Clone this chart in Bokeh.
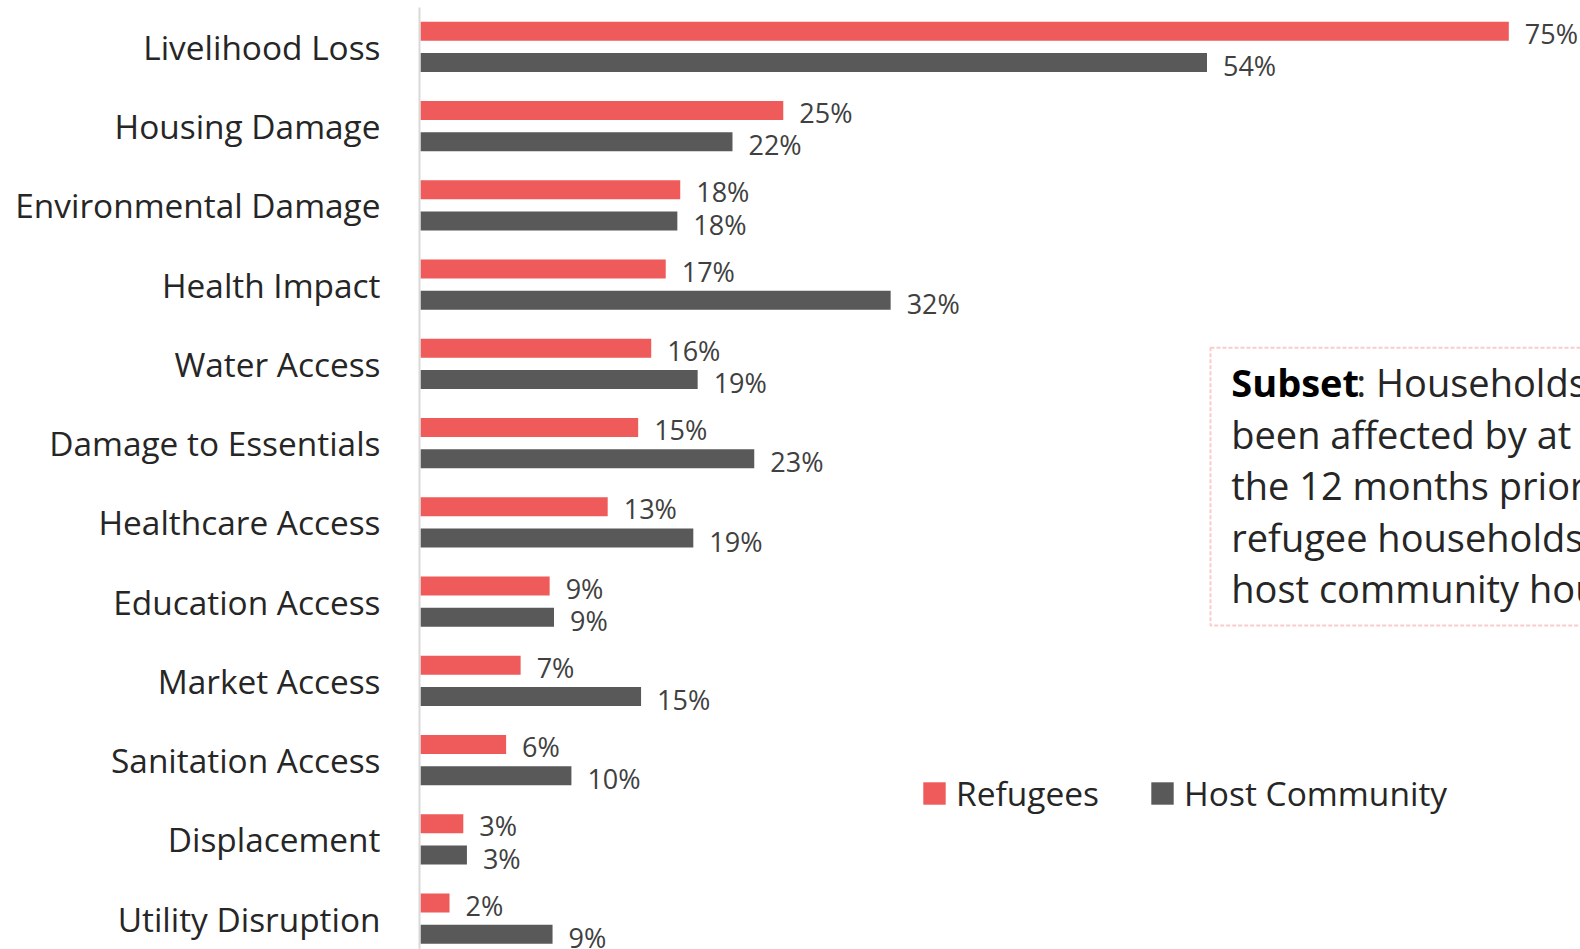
from bokeh.plotting import figure
from bokeh.models import (Range1d, FixedTicker, ColumnDataSource, Legend, LegendItem,
                          BoxAnnotation, Label)
from bokeh.embed import file_html
from bokeh.resources import INLINE
from bokeh.core.properties import value

categories = ["Livelihood Loss", "Housing Damage", "Environmental Damage", "Health Impact",
              "Water Access", "Damage to Essentials", "Healthcare Access", "Education Access",
              "Market Access", "Sanitation Access", "Displacement", "Utility Disruption"]
refugees = [75.0, 25.0, 17.9, 16.9, 15.9, 15.0, 12.9, 8.9, 6.9, 5.9, 2.95, 2.0]
host = [54.2, 21.5, 17.7, 32.4, 19.1, 23.0, 18.8, 9.2, 15.2, 10.4, 3.2, 9.1]

RED = "#EF5A5A"
DARK = "#595959"
FONT = "Open Sans"

idx = list(range(len(categories)))
off = 0.197
bar_h = 0.240

src_r = ColumnDataSource(dict(y=[i - off for i in idx], v=refugees,
                              lbl=[f"{round(v)}%" for v in refugees]))
src_h = ColumnDataSource(dict(y=[i + off for i in idx], v=host,
                              lbl=[f"{round(v)}%" for v in host]))

p = figure(width=1580, height=949, output_backend="svg", toolbar_location=None,
           x_range=Range1d(-0.069, 79.94), y_range=Range1d(11.389, -0.497),
           min_border_left=419, min_border_right=0, min_border_top=7, min_border_bottom=0)
p.outline_line_color = None
p.xgrid.visible = False
p.ygrid.visible = False
p.xaxis.visible = False

ya = p.yaxis[0]
ya.ticker = FixedTicker(ticks=idx)
ya.major_label_overrides = {i: c for i, c in zip(idx, categories)}
ya.major_tick_line_color = None
ya.minor_tick_line_color = None
ya.axis_line_color = "#D9D9D9"
ya.axis_line_width = 2
ya.major_label_text_font = FONT
ya.major_label_text_font_size = "33.4px"
ya.major_label_text_color = "#262626"
ya.major_label_standoff = 33

r_bar = p.hbar(y="y", right="v", left=0, height=bar_h, source=src_r, fill_color=RED, line_color=None)
h_bar = p.hbar(y="y", right="v", left=0, height=bar_h, source=src_h, fill_color=DARK, line_color=None)

p.text(x="v", y="y", text="lbl", source=src_r, x_offset=16, y_offset=2,
       text_font=value(FONT), text_font_size="27px", text_color="#404040",
       text_baseline="middle", text_align="left")
p.text(x="v", y="y", text="lbl", source=src_h, x_offset=16, y_offset=3,
       text_font=value(FONT), text_font_size="27px", text_color="#404040",
       text_baseline="middle", text_align="left")

# note box
box = BoxAnnotation(left=54.44, right=90, top=3.797, bottom=7.301,
                    fill_color=None, line_color="#EE5358", line_dash="4 2", line_width=2)
p.add_layout(box)
note_lines = ["Households that have", "been affected by at least one shock in",
              "the 12 months prior to data collection",
              "refugee households and",
              "host community households"]
note_x = 55.87
note_y = 4.234
note_dy = 0.649
p.add_layout(Label(x=note_x, y=note_y, text="Subset", text_font=FONT, text_font_size="38px",
                   text_font_style="bold", text_color="#000000", text_baseline="alphabetic"))
p.add_layout(Label(x=note_x, y=note_y, x_offset=125, text=": " + note_lines[0], text_font=FONT,
                   text_font_size="38px", text_color="#262626", text_baseline="alphabetic"))
for k, line in enumerate(note_lines[1:], start=1):
    p.add_layout(Label(x=note_x, y=note_y + k * note_dy, text=line, text_font=FONT,
                       text_font_size="38px", text_color="#262626", text_baseline="alphabetic"))

legend = Legend(items=[LegendItem(label="Refugees", renderers=[r_bar]),
                       LegendItem(label="Host Community", renderers=[h_bar])],
                orientation="horizontal", location=(501, 133),
                label_text_font=FONT, label_text_font_size="33.5px", label_text_color="#262626",
                glyph_width=28, glyph_height=28, label_standoff=8, spacing=49,
                padding=0, margin=0, border_line_color=None, background_fill_alpha=0)
p.add_layout(legend)

open("out.html", "w").write(file_html(p, INLINE))
